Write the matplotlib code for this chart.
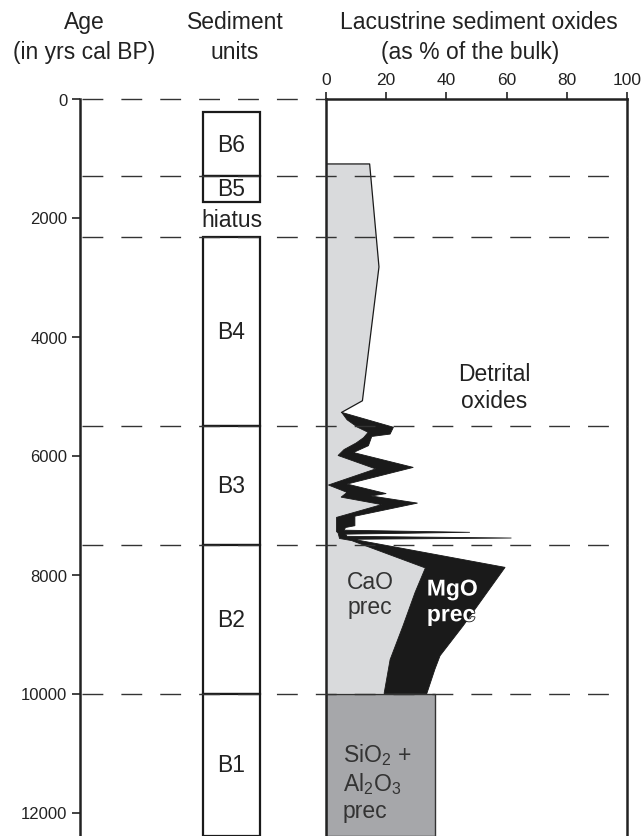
import matplotlib
matplotlib.use('Agg')
import matplotlib.pyplot as plt
import matplotlib.patheffects as pe
from matplotlib.patches import Rectangle
import numpy as np

plt.rcParams['font.family'] = ['Liberation Sans', 'DejaVu Sans']
plt.rcParams['mathtext.fontset'] = 'custom'
plt.rcParams['mathtext.rm'] = 'Liberation Sans'

# ---- data ----
# age ticks (yrs cal BP)
age_ticks = [0, 2000, 4000, 6000, 8000, 10000, 12000]
oxide_ticks = [0, 20, 40, 60, 80, 100]

# unit boundaries (yrs cal BP)
unit_names = ['B6', 'B5', 'B4', 'B3', 'B2', 'B1']
unit_top = [230, 1300, 2320, 5500, 7500, 10000]
unit_bottom = [1300, 1735, 5500, 7500, 10000, 12400]
hiatus_age = [1735, 2320]
dashed_ages = [0, 1300, 2320, 5500, 7500, 10000]

# detrital oxides outer boundary (%)
detrital_age = [1100, 1100, 2830, 5080, 5275]
detrital_pct = [0, 14.5, 17.6, 12.1, 5.2]

# MgO precipitate outer boundary (%)
mgo_age = [5275, 5525, 5640, 5680, 5835, 5950, 6200, 6480, 6640, 6680, 6800,
           7020, 7180, 7210, 7255, 7291, 7322, 7358, 7387, 7408, 7880, 8860,
           9365, 9590, 10000]
mgo_pct = [5.2, 22.4, 21.3, 15.2, 14.1, 9.1, 29.0, 7.0, 20.0, 15.0, 30.4,
           9.6, 9.6, 6.5, 6.0, 47.8, 6.5, 7.0, 61.6, 9.0, 59.5, 45.6,
           37.9, 36.2, 33.5]

# CaO precipitate boundary (%)
cao_age = [5275, 5400, 5525, 5610, 5700, 5790, 5900, 6000, 6225, 6496, 6620,
           6700, 6825, 7040, 7180, 7280, 7300, 7395, 7430, 7890, 8300, 8860,
           9430, 10000]
cao_pct = [5.2, 7.0, 10.5, 14.0, 12.5, 10.0, 6.0, 4.0, 16.5, 0.8, 7.0,
           5.0, 18.5, 3.5, 3.5, 3.5, 4.0, 4.5, 8.5, 33.0, 29.6, 25.6,
           21.3, 19.3]

# SiO2 + Al2O3 precipitate
sial_age = [10000, 12400]
sial_pct = 36.3

# ---- layout (pixels) ----
W, H = 643, 837
y0_px = 99.5
px_per_yr = 0.0595
age_max = (H - y0_px) / px_per_yr


def rect(x0, y0, x1, y1):
    return [x0 / W, 1 - y1 / H, (x1 - x0) / W, (y1 - y0) / H]


fig = plt.figure(figsize=(W / 100, H / 100), dpi=100)

light = '#d9dadc'
mid = '#a6a7aa'
dark = '#1a1a1a'

# oxides panel
ax = fig.add_axes(rect(326, y0_px, 627, H))
ax.set_xlim(0, 100)
ax.set_ylim(age_max, 0)
ax.fill(np.r_[detrital_pct, mgo_pct[1:], 0], np.r_[detrital_age, mgo_age[1:], 10000],
        color=light, lw=0, zorder=1)
ax.plot(np.r_[0, detrital_pct[1:]], np.r_[1100, detrital_age[1:]], color=dark, lw=0.9, zorder=2)
ax.fill(np.r_[cao_pct, mgo_pct[::-1]], np.r_[cao_age, mgo_age[::-1]],
        color=dark, lw=0.6, ec=dark, zorder=3)
ax.add_patch(Rectangle((0, sial_age[0]), sial_pct, sial_age[1] - sial_age[0],
                       fc=mid, ec='#333333', lw=1.0, zorder=2))

ax.text(56, 4850, 'Detrital\noxides', ha='center', va='center', fontsize=16.5,
        linespacing=1.25, color='#222222')
ax.text(7, 8330, 'CaO\nprec', ha='left', va='center', fontsize=16.5,
        linespacing=1.15, color='#333333')
ax.text(33.5, 8460, 'MgO\nprec', ha='left', va='center', fontsize=16.5,
        fontweight='bold', linespacing=1.15, color='white',
        path_effects=[pe.withStroke(linewidth=1.2, foreground=dark)])
ax.text(5.5, 11480, 'SiO$_2$ +\nAl$_2$O$_3$\nprec', ha='left', va='center',
        fontsize=16.5, linespacing=1.15, color='#333333')

ax.xaxis.tick_top()
ax.set_xticks(oxide_ticks)
ax.tick_params(axis='x', direction='out', length=5, width=1.2, pad=3,
               labelsize=12.5, colors='#222222')
ax.set_yticks([])
for s in ['top', 'left', 'right']:
    ax.spines[s].set_linewidth(1.8)
    ax.spines[s].set_color('#222222')
ax.spines['bottom'].set_visible(False)
ax.set_zorder(1)

# age axis + sediment units column
ax2 = fig.add_axes(rect(80, y0_px, 627, H))
ax2.set_xlim(80, 627)
ax2.set_ylim(age_max, 0)
ax2.patch.set_visible(False)
ax2.set_zorder(2)
for s in ['top', 'right', 'bottom']:
    ax2.spines[s].set_visible(False)
ax2.spines['left'].set_linewidth(1.8)
ax2.spines['left'].set_color('#222222')
ax2.set_xticks([])
ax2.set_yticks(age_ticks)
ax2.tick_params(axis='y', direction='out', length=6, width=1.2, pad=3,
                labelsize=12, colors='#222222')

for name, top, bot in zip(unit_names, unit_top, unit_bottom):
    ax2.add_patch(Rectangle((203, top), 57, bot - top, fc='white',
                            ec='#1a1a1a', lw=1.6, zorder=3, clip_on=False))
    ax2.text(231.5, (top + bot) / 2, name, ha='center', va='center',
             fontsize=16.5, color='#222222', zorder=4)
ax2.text(231.5, sum(hiatus_age) / 2, 'hiatus', ha='center', va='center',
         fontsize=16.5, color='#222222', zorder=4)

for a in dashed_ages:
    xe = 326 if a == 0 else 627
    ax2.plot([82, xe], [a, a], color='#333333', lw=1.0,
             linestyle=(0, (15, 13)), zorder=5, clip_on=False)

# headers
def head(x, y, s):
    fig.text(x / W, 1 - y / H, s, ha='center', va='baseline', fontsize=16.5,
             color='#222222')

head(84, 29, 'Age')
head(84, 59, '(in yrs cal BP)')
head(235, 29, 'Sediment')
head(235, 59, 'units')
head(479, 29, 'Lacustrine sediment oxides')
head(470, 59, '(as % of the bulk)')

fig.savefig('out.png', dpi=100)
